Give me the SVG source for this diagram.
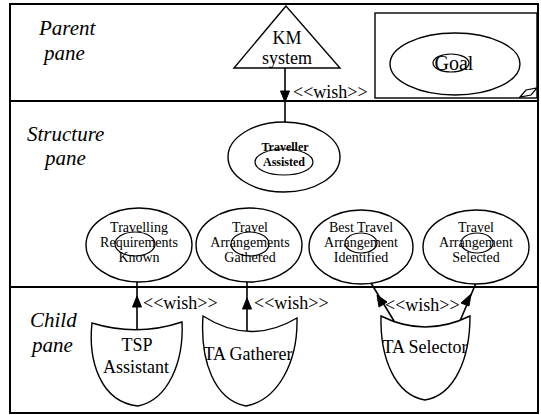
<svg xmlns="http://www.w3.org/2000/svg" width="541" height="415" viewBox="0 0 541 415">
  <style>
    .pane { fill: none; stroke: #000; stroke-width: 2; }
    .shape { fill: #fff; stroke: #000; stroke-width: 1.4; }
    .inner { fill: none; stroke: #000; stroke-width: 1.2; }
    .edge { fill: none; stroke: #000; stroke-width: 1.6; }
    .head { fill: #000; stroke: #000; stroke-width: 1; }
    text { font-family: "Liberation Serif", "Times New Roman", "DejaVu Serif", serif; fill: #000; }
    .pane-lbl { font-size: 21px; font-style: italic; }
    .big { font-size: 18px; text-anchor: middle; }
    .goal { font-size: 14px; text-anchor: middle; }
    .small { font-size: 12px; font-weight: bold; text-anchor: middle; }
    .wish { font-size: 18px; }
  </style>

  <rect width="541" height="415" fill="#fff"/>

  <g font-family="Liberation Serif, serif">
  <!-- panes -->
  <g id="panes">
    <rect class="pane" x="10" y="4" width="528" height="409"/>
    <line class="pane" x1="10" y1="101" x2="538" y2="101"/>
    <line class="pane" x1="10" y1="287" x2="538" y2="287"/>
    <text class="pane-lbl" x="39" y="35">Parent</text>
    <text class="pane-lbl" x="44" y="60">pane</text>
    <text class="pane-lbl" x="27" y="141">Structure</text>
    <text class="pane-lbl" x="45" y="165">pane</text>
    <text class="pane-lbl" x="30" y="327">Child</text>
    <text class="pane-lbl" x="32" y="352">pane</text>
  </g>

  <!-- connectors -->
  <g id="connectors">
    <line class="edge" x1="285" y1="68" x2="285" y2="122"/>
    <polygon class="head" points="280.5,91 289.5,91 285,102"/>
    <text class="wish" x="293" y="98">&lt;&lt;wish&gt;&gt;</text>

    <line class="edge" x1="137" y1="282" x2="137" y2="330"/>
    <polygon class="head" points="132.5,307 141.5,307 137,296"/>
    <text class="wish" x="143" y="309">&lt;&lt;wish&gt;&gt;</text>

    <line class="edge" x1="247" y1="282" x2="247" y2="332"/>
    <polygon class="head" points="242.5,309 251.5,309 247,298"/>
    <text class="wish" x="254" y="309">&lt;&lt;wish&gt;&gt;</text>

    <line class="edge" x1="394" y1="321" x2="371" y2="283"/>
    <polygon class="head" points="379,307 387,302 377,295"/>
    <line class="edge" x1="460" y1="321" x2="476" y2="283"/>
    <polygon class="head" points="461,303 469,306 471,294"/>
    <text class="wish" x="385" y="311">&lt;&lt;wish&gt;&gt;</text>
  </g>

  <!-- parent pane -->
  <g id="km-system">
    <polygon class="shape" points="286,6 234,68 340,68"/>
    <text class="big" x="287" y="44">KM</text>
    <text class="big" x="287" y="64">system</text>
  </g>

  <g id="goal-legend">
    <rect class="shape" x="375" y="13" width="162" height="85"/>
    <ellipse class="shape" cx="455" cy="64" rx="65" ry="31"/>
    <ellipse class="inner" cx="451" cy="63" rx="18" ry="9"/>
    <text x="454" y="70" font-size="20" text-anchor="middle">Goal</text>
    <polygon class="inner" points="520,97 526,90 537,88 531,95"/>
  </g>

  <!-- structure pane -->
  <g id="traveller-assisted">
    <ellipse class="shape" cx="284" cy="157" rx="56" ry="35"/>
    <ellipse class="inner" cx="284" cy="162" rx="29" ry="13"/>
    <text class="small" x="285" y="151">Traveller</text>
    <text class="small" x="284" y="166">Assisted</text>
  </g>

  <g id="requirements-known">
    <ellipse class="shape" cx="139" cy="245" rx="53" ry="37"/>
    <ellipse class="inner" cx="135" cy="244" rx="20" ry="12"/>
    <text class="goal" x="139" y="232">Travelling</text>
    <text class="goal" x="139" y="247">Requirements</text>
    <text class="goal" x="139" y="262">Known</text>
  </g>

  <g id="arrangements-gathered">
    <ellipse class="shape" cx="249" cy="245" rx="53" ry="37"/>
    <ellipse class="inner" cx="250" cy="244" rx="19" ry="12"/>
    <text class="goal" x="250" y="232">Travel</text>
    <text class="goal" x="250" y="247">Arrangements</text>
    <text class="goal" x="250" y="262">Gathered</text>
  </g>

  <g id="arrangement-identified">
    <ellipse class="shape" cx="361" cy="247" rx="52" ry="37"/>
    <ellipse class="inner" cx="361" cy="243" rx="16" ry="10"/>
    <text class="goal" x="361" y="232">Best Travel</text>
    <text class="goal" x="361" y="247">Arrangement</text>
    <text class="goal" x="361" y="262">Identified</text>
  </g>

  <g id="arrangement-selected">
    <ellipse class="shape" cx="476" cy="247" rx="53" ry="37"/>
    <ellipse class="inner" cx="477" cy="243" rx="16" ry="10"/>
    <text class="goal" x="476" y="232">Travel</text>
    <text class="goal" x="476" y="247">Arrangement</text>
    <text class="goal" x="476" y="262">Selected</text>
  </g>

  <!-- child pane -->
  <g id="tsp-assistant">
    <path class="shape" d="M92,323 Q137,337 182,322 C184,362 168,400 138,406 C100,402 88,360 92,323 Z"/>
    <text class="big" x="137" y="351">TSP</text>
    <text class="big" x="136" y="373">Assistant</text>
  </g>

  <g id="ta-gatherer">
    <path class="shape" d="M203,316 Q250,346 297,318 C298,362 278,400 246,406 C214,400 200,360 203,316 Z"/>
    <text class="big" x="248" y="360">TA Gatherer</text>
  </g>

  <g id="ta-selector">
    <path class="shape" d="M381,316 Q425,338 470,316 C470,358 455,395 425,400 C395,395 380,358 381,316 Z"/>
    <text class="big" x="425" y="353">TA Selector</text>
  </g>
  </g>
</svg>
